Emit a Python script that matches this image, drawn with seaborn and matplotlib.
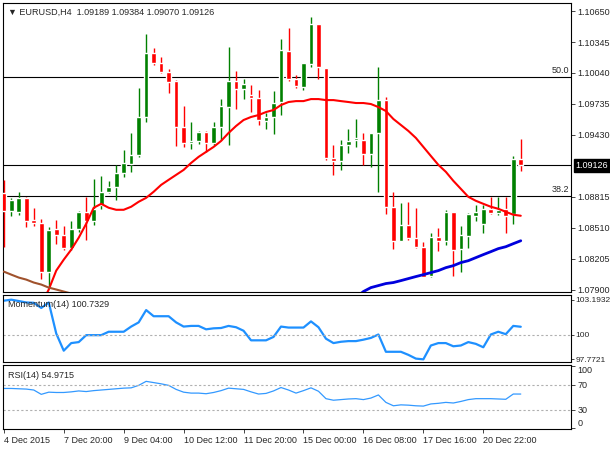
import numpy as np
import pandas as pd
import matplotlib
matplotlib.use("Agg")
import matplotlib.pyplot as plt
import matplotlib.transforms as mtrans
import seaborn as sns

# EURUSD H4 candles
opens = [1.08856, 1.08678, 1.08668, 1.08806, 1.08590, 1.08560, 1.08077, 1.08501, 1.08442, 1.08313,
         1.08501, 1.08668, 1.08580, 1.08737, 1.08866, 1.08915, 1.09053, 1.09142, 1.09230, 1.09605,
         1.10236, 1.10137, 1.10048, 1.09960, 1.09506, 1.09348, 1.09368, 1.09457, 1.09348, 1.09506,
         1.09703, 1.09960, 1.09881, 1.09822, 1.09792, 1.09565, 1.09605, 1.09753, 1.10255, 1.09979,
         1.09900, 1.10127, 1.10522, 1.10088, 1.09201, 1.09171, 1.09329, 1.09378, 1.09378, 1.09240,
         1.09447, 1.09772, 1.08718, 1.08382, 1.08540, 1.08412, 1.08323, 1.08038, 1.08422, 1.08382,
         1.08668, 1.08304, 1.08432, 1.08629, 1.08550, 1.08698, 1.08659, 1.08698, 1.08649, 1.09189]
highs = [1.08984, 1.08806, 1.08866, 1.08816, 1.08708, 1.08599, 1.08521, 1.08590, 1.08530, 1.08580,
         1.08678, 1.08816, 1.08994, 1.09023, 1.08974, 1.09132, 1.09279, 1.09447, 1.09891, 1.10423,
         1.10285, 1.10196, 1.10078, 1.09969, 1.09713, 1.09555, 1.09467, 1.09467, 1.09555, 1.09782,
         1.10295, 1.10058, 1.09979, 1.09920, 1.09871, 1.09644, 1.09861, 1.10374, 1.10482, 1.10019,
         1.10137, 1.10591, 1.10522, 1.10088, 1.09329, 1.09378, 1.09486, 1.09585, 1.09447, 1.09447,
         1.10098, 1.09802, 1.08866, 1.08757, 1.08767, 1.08708, 1.08373, 1.08461, 1.08511, 1.08688,
         1.08668, 1.08530, 1.08659, 1.08737, 1.08737, 1.08816, 1.08816, 1.08816, 1.09220, 1.09384]
lows = [1.08323, 1.08629, 1.08639, 1.08521, 1.08530, 1.08008, 1.07929, 1.08353, 1.08294, 1.08294,
        1.08471, 1.08392, 1.08540, 1.08698, 1.08856, 1.08787, 1.09013, 1.09063, 1.09211, 1.09555,
        1.10117, 1.10038, 1.09841, 1.09319, 1.09309, 1.09289, 1.09338, 1.09260, 1.09329, 1.09378,
        1.09329, 1.09684, 1.09782, 1.09654, 1.09526, 1.09486, 1.09437, 1.09624, 1.09960, 1.09891,
        1.09871, 1.10098, 1.09979, 1.09181, 1.09033, 1.09082, 1.09250, 1.09309, 1.09132, 1.09112,
        1.08866, 1.08649, 1.08304, 1.08382, 1.08392, 1.08313, 1.08028, 1.08028, 1.08284, 1.08343,
        1.08038, 1.08077, 1.08313, 1.08580, 1.08461, 1.08649, 1.08639, 1.08461, 1.08550, 1.09070]
closes = [1.08678, 1.08787, 1.08806, 1.08580, 1.08560, 1.08077, 1.08491, 1.08442, 1.08313, 1.08501,
          1.08668, 1.08580, 1.08698, 1.08866, 1.08915, 1.09053, 1.09151, 1.09230, 1.09605, 1.10236,
          1.10137, 1.10048, 1.09950, 1.09506, 1.09348, 1.09368, 1.09457, 1.09348, 1.09506, 1.09713,
          1.09960, 1.09881, 1.09930, 1.09792, 1.09575, 1.09605, 1.09743, 1.10265, 1.09979, 1.09910,
          1.10137, 1.10522, 1.10098, 1.09201, 1.09171, 1.09329, 1.09368, 1.09398, 1.09240, 1.09447,
          1.09772, 1.08718, 1.08382, 1.08540, 1.08412, 1.08323, 1.08028, 1.08422, 1.08382, 1.08668,
          1.08294, 1.08442, 1.08649, 1.08668, 1.08698, 1.08659, 1.08688, 1.08629, 1.09191, 1.09126]

# moving averages (first bar index where each one shows)
ma_red_start = 5
ma_red = [1.07752, 1.07900, 1.08087, 1.08195, 1.08294, 1.08412, 1.08550, 1.08708, 1.08747, 1.08708,
          1.08688, 1.08688, 1.08718, 1.08767, 1.08806, 1.08866, 1.08934, 1.08984, 1.09033, 1.09082,
          1.09151, 1.09211, 1.09260, 1.09309, 1.09368, 1.09447, 1.09516, 1.09575, 1.09605, 1.09624,
          1.09654, 1.09674, 1.09723, 1.09753, 1.09762, 1.09762, 1.09782, 1.09782, 1.09772, 1.09772,
          1.09762, 1.09753, 1.09743, 1.09743, 1.09733, 1.09703, 1.09664, 1.09585, 1.09526, 1.09467,
          1.09398, 1.09309, 1.09220, 1.09132, 1.09063, 1.08974, 1.08895, 1.08816, 1.08777, 1.08747,
          1.08718, 1.08698, 1.08668, 1.08639, 1.08629]
ma_blue_start = 47
ma_blue = [1.07821, 1.07880, 1.07919, 1.07939, 1.07959, 1.07969, 1.07988, 1.08008, 1.08028, 1.08047,
           1.08067, 1.08087, 1.08116, 1.08136, 1.08166, 1.08185, 1.08215, 1.08245, 1.08274, 1.08304,
           1.08323, 1.08353, 1.08382]
ma_brown_start = 0
ma_brown = [1.08077, 1.08047, 1.08018, 1.07998, 1.07969, 1.07949, 1.07919, 1.07900, 1.07880, 1.07860,
            1.07840, 1.07821]

momentum = [103.10, 103.1932, 103.07, 102.94, 102.91, 102.44, 102.94, 100.12, 98.56, 99.25,
            99.34, 99.97, 99.97, 99.97, 100.28, 100.28, 100.28, 100.75, 101.13, 102.25,
            101.69, 101.69, 101.69, 101.13, 100.75, 100.81, 100.81, 100.50, 100.59, 100.62,
            100.81, 100.69, 100.37, 99.50, 99.50, 99.50, 99.81, 100.75, 100.66, 100.66,
            100.66, 101.22, 100.69, 99.65, 99.25, 99.37, 99.43, 99.43, 99.56, 99.72,
            100.03, 98.46, 98.46, 98.46, 98.18, 97.84, 97.7721, 99.03, 99.25, 99.25,
            98.96, 99.03, 99.34, 99.18, 98.87, 100.03, 100.28, 100.06, 100.81, 100.7329]
rsi = [64.0, 64.0, 63.5, 63.0, 61.5, 54.5, 58.0, 57.5, 57.5, 58.5,
       60.0, 59.0, 60.5, 61.5, 62.5, 63.5, 64.5, 65.0, 69.0, 75.5,
       73.5, 71.5, 69.0, 62.5, 58.0, 56.5, 56.5, 55.5, 57.5, 60.5,
       64.5, 63.5, 62.5, 58.5, 55.0, 56.0, 60.0, 65.5, 61.5, 56.5,
       60.5, 65.0, 59.5, 47.5, 45.0, 46.0, 47.0, 47.5, 46.0, 48.5,
       53.5, 41.5, 36.0, 37.5, 37.0, 36.0, 35.5, 39.0, 40.0, 41.5,
       40.5, 43.0, 46.0, 47.5, 47.5, 47.5, 47.0, 46.5, 55.0, 54.9715]

fib_50 = 1.10000
fib_382 = 1.08826
last_price = 1.09126

price_ticks = [1.10650, 1.10345, 1.10040, 1.09735, 1.09430, 1.08815, 1.08510, 1.08205, 1.07900]
mom_ticks = [103.1932, 100, 97.7721]
mom_tick_labels = ["103.1932", "100", "97.7721"]
rsi_ticks = [100, 70, 30, 0]
date_bars = [0, 8, 16, 24, 32, 40, 48, 56, 64]
date_labels = ["4 Dec 2015", "7 Dec 20:00", "9 Dec 04:00", "10 Dec 12:00", "11 Dec 20:00",
               "15 Dec 00:00", "16 Dec 08:00", "17 Dec 16:00", "20 Dec 22:00"]

sns.set_style("white")
plt.rcParams["font.family"] = ["Liberation Sans", "DejaVu Sans"]
fs = 6.5

df = pd.DataFrame({"o": opens, "h": highs, "l": lows, "c": closes,
                   "mom": momentum, "rsi": rsi})
df["bar"] = np.arange(len(df))
df["up"] = df["c"] >= df["o"]
df["col"] = np.where(df["up"], "#008000", "#ff0000")

fig = plt.figure(figsize=(6.1, 4.5), dpi=100)
ax1 = fig.add_axes([0.005, 0.351, 0.931, 0.642])
ax2 = fig.add_axes([0.005, 0.196, 0.931, 0.148], sharex=ax1)
ax3 = fig.add_axes([0.005, 0.046, 0.931, 0.143], sharex=ax1)

# candles
ax1.vlines(df["bar"], df["l"], df["h"], colors=df["col"], lw=1, zorder=3)
body_lo = np.minimum(df["o"], df["c"])
body_h = np.maximum(np.abs(df["c"] - df["o"]), 0.00003)
ax1.bar(df["bar"], body_h, bottom=body_lo, width=0.62, color=df["col"], zorder=4)

red = pd.DataFrame({"bar": np.arange(ma_red_start, ma_red_start + len(ma_red)), "v": ma_red})
blue = pd.DataFrame({"bar": np.arange(ma_blue_start, ma_blue_start + len(ma_blue)), "v": ma_blue})
brown = pd.DataFrame({"bar": np.arange(ma_brown_start, ma_brown_start + len(ma_brown)), "v": ma_brown})
sns.lineplot(data=red, x="bar", y="v", ax=ax1, color="#ff0000", lw=1.5, zorder=5)
sns.lineplot(data=blue, x="bar", y="v", ax=ax1, color="#0000dd", lw=2, zorder=5)
sns.lineplot(data=brown, x="bar", y="v", ax=ax1, color="#a0522d", lw=1.5, zorder=5)

for lvl in [fib_50, last_price, fib_382]:
    ax1.axhline(lvl, color="black", lw=0.8, zorder=2)
tr = mtrans.blended_transform_factory(ax1.transAxes, ax1.transData)
ax1.text(0.997, fib_50 + 0.0002, "50.0", transform=tr, ha="right", va="bottom", fontsize=fs)
ax1.text(0.997, fib_382 + 0.0002, "38.2", transform=tr, ha="right", va="bottom", fontsize=fs)
ax1.text(1.008, last_price, "%.5f" % last_price, transform=tr, ha="left", va="center",
         fontsize=fs, color="white", clip_on=False,
         bbox=dict(facecolor="black", edgecolor="black", pad=1.2))
ax1.text(0.008, 0.985, "\u25bc EURUSD,H4  1.09189 1.09384 1.09070 1.09126",
         transform=ax1.transAxes, ha="left", va="top", fontsize=fs)
ax1.set_ylim(1.07875, 1.10730)
ax1.set_yticks(price_ticks)
ax1.set_yticklabels(["%.5f" % t for t in price_ticks])

# momentum
sns.lineplot(data=df, x="bar", y="mom", ax=ax2, color="#1e90ff", lw=1.6)
ax2.axhline(100, color="#b0b0b0", lw=0.8, ls=(0, (2, 2)))
ax2.set_ylim(97.55, 103.6)
ax2.set_yticks(mom_ticks)
ax2.set_yticklabels(mom_tick_labels)
ax2.text(0.008, 0.93, "Momentum(14) 100.7329", transform=ax2.transAxes,
         ha="left", va="top", fontsize=fs)

# RSI
sns.lineplot(data=df, x="bar", y="rsi", ax=ax3, color="#3399ff", lw=0.9)
for lvl in [70, 30]:
    ax3.axhline(lvl, color="#b0b0b0", lw=0.8, ls=(0, (2, 2)))
ax3.set_ylim(-2, 102)
ax3.set_yticks(rsi_ticks)
ax3.set_yticklabels([str(t) for t in rsi_ticks])
ax3.text(0.008, 0.9, "RSI(14) 54.9715", transform=ax3.transAxes,
         ha="left", va="top", fontsize=fs)

ax1.set_xlim(-0.1, 75.7)
for ax in [ax1, ax2, ax3]:
    ax.set_xlabel("")
    ax.set_ylabel("")
    ax.yaxis.tick_right()
    ax.tick_params(axis="y", length=3, width=0.6, labelsize=fs, pad=1.5, right=True)
    for s in ax.spines.values():
        s.set_color("black")
        s.set_linewidth(0.8)
ax2.tick_params(axis="y", length=2, pad=1, labelsize=6)
ax1.tick_params(axis="x", bottom=False, labelbottom=False)
ax2.tick_params(axis="x", bottom=False, labelbottom=False)
ax3.set_xticks(date_bars)
ax3.set_xticklabels(date_labels, ha="left")
ax3.tick_params(axis="x", length=3, width=0.6, labelsize=fs, pad=2, bottom=True)
for lab in ax3.get_yticklabels():
    if lab.get_text() == "100":
        lab.set_verticalalignment("top")
    elif lab.get_text() == "0":
        lab.set_verticalalignment("bottom")

fig.savefig("out.png", dpi=100)
